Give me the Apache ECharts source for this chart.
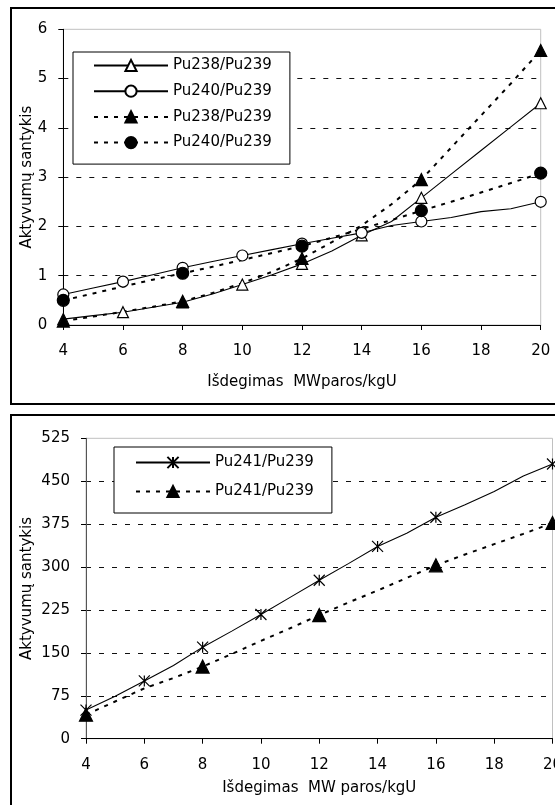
<!DOCTYPE html>
<html><head><meta charset="utf-8">
<script src="https://cdn.jsdelivr.net/npm/echarts@6/dist/echarts.min.js"></script>
<style>html,body{margin:0;padding:0;background:#fff}#c{width:555px;height:805px}</style>
</head><body><div id="c"></div><script>
// ---- data ----
const xVals = [4,5,6,7,8,9,10,11,12,13,14,15,16,17,18,19,20];
const xTicks = [4,6,8,10,12,14,16,18,20];
const yTicksTop = [0,1,2,3,4,5,6];
const yTicksBottom = [0,75,150,225,300,375,450,525];
const pu238Solid = [0.12,0.19,0.26,0.36,0.46,0.63,0.82,1.02,1.24,1.5,1.82,2.1,2.58,3.06,3.54,4.02,4.5];
const pu240Solid = [0.62,0.75,0.88,1.02,1.16,1.29,1.41,1.53,1.65,1.76,1.87,2.02,2.1,2.18,2.3,2.36,2.5];
const pu238Dash  = [0.08,0.17,0.27,0.37,0.48,0.65,0.85,1.08,1.35,1.68,2.02,2.45,2.95,3.6,4.25,4.9,5.57];
const pu240Dash  = [0.5,0.64,0.78,0.92,1.05,1.18,1.32,1.46,1.6,1.77,1.95,2.13,2.32,2.5,2.69,2.88,3.08];
const pu241Solid = [50,74,101,128,160,188,217,247,277,306,336,359,387,409,432,459,480];
const pu241Dash  = [42,65,88,106,126,148,171,193,216,238,259,281,303,322,340,358,377];
const solidMarkX = [4,6,8,10,12,14,16,20];
const dashMarkX  = [4,8,12,16,20];
const names = ['Pu238/Pu239','Pu240/Pu239','Pu238/Pu239 ','Pu240/Pu239 '];
const names2 = ['Pu241/Pu239','Pu241/Pu239 '];
const xTitleTop = 'Išdegimas  MWparos/kgU';
const xTitleBottom = 'Išdegimas  MW paros/kgU';
const yTitle = 'Aktyvumų santykis';

// ---- helpers ----
const FONT = 'DejaVu Sans';
function mk(ys, markX) {
  return xVals.map((x, i) => markX.includes(x) ? [x, ys[i]] : {value: [x, ys[i]], symbol: 'none'});
}
function xAxis(gridIndex, name, gap) {
  return {
    type: 'value', gridIndex, min: 4, max: 20, interval: 2,
    axisLine: {show: true, lineStyle: {color: '#000', width: 1}},
    axisTick: {show: true, length: 5, lineStyle: {color: '#000'}},
    axisLabel: {color: '#000', fontSize: 15, fontFamily: FONT, margin: 19, showMinLabel: true, showMaxLabel: true},
    splitLine: {show: false},
    name, nameLocation: 'middle', nameGap: gap, nameMoveOverlap: false,
    nameTextStyle: {color: '#000', fontSize: 15, fontFamily: FONT}
  };
}
function yAxis(gridIndex, max, interval, gap, axisColor) {
  return {
    type: 'value', gridIndex, min: 0, max, interval,
    axisLine: {show: true, lineStyle: {color: axisColor, width: 1}},
    axisTick: {show: true, length: 5, lineStyle: {color: '#000'}},
    axisLabel: {color: '#000', fontSize: 15, fontFamily: FONT, margin: 16},
    splitLine: {show: true, showMinLine: false, showMaxLine: false, lineStyle: {color: '#111', width: 1, type: [5, 8]}},
    name: yTitle, nameLocation: 'middle', nameGap: gap, nameMoveOverlap: false,
    nameTextStyle: {color: '#000', fontSize: 15, fontFamily: FONT}
  };
}
const ASTER = 'path://M0,0L12,12M12,0L0,12M6,0L6,12';
function line(name, xi, data, symbol, size, fill, dashed) {
  return {
    type: 'line', name, xAxisIndex: xi, yAxisIndex: xi, data,
    symbol, symbolSize: size, showSymbol: true,
    lineStyle: dashed ? {color: '#000', width: 2, type: [4, 6]} : {color: '#000', width: 1.1, type: 'solid'},
    itemStyle: {color: fill, borderColor: '#000', borderWidth: 1.2},
    emphasis: {disabled: true}, animation: false, silent: true
  };
}
const legendCommon = {
  orient: 'vertical', itemWidth: 74, itemHeight: 14,
  borderColor: '#000', borderWidth: 1, backgroundColor: '#fff', selectedMode: false,
  textStyle: {fontSize: 15, fontFamily: FONT, color: '#000'},
  formatter: n => n.trim()
};

const option = {
  backgroundColor: '#fff',
  animation: false,
  graphic: [
    {type: 'rect', shape: {x: 11, y: 8, width: 600, height: 396}, style: {fill: 'none', stroke: '#000', lineWidth: 2}, silent: true, z: -10},
    {type: 'rect', shape: {x: 11, y: 415, width: 600, height: 500}, style: {fill: 'none', stroke: '#000', lineWidth: 2}, silent: true, z: -10}
  ],
  grid: [
    {left: 63.3, top: 29.3, width: 477.4, height: 295.7, show: true, borderColor: '#c0c0c0', borderWidth: 1, backgroundColor: 'transparent', outerBoundsMode: 'none', containLabel: false},
    {left: 86, top: 438.3, width: 466.5, height: 300.4, show: true, borderColor: '#c0c0c0', borderWidth: 1, backgroundColor: 'transparent', outerBoundsMode: 'none', containLabel: false}
  ],
  xAxis: [xAxis(0, xTitleTop, 50), xAxis(1, xTitleBottom, 42)],
  yAxis: [yAxis(0, 6, 1, 29, '#000'), yAxis(1, 525, 75, 51, '#555')],
  legend: [
    Object.assign({}, legendCommon, {left: 73, top: 52, padding: [6, 18, 14, 20], itemGap: 10.7, data: names}),
    Object.assign({}, legendCommon, {left: 114, top: 447, padding: [8, 18, 14, 21], itemGap: 14, data: names2})
  ],
  series: [
    line(names[0], 0, mk(pu238Solid, solidMarkX), 'triangle', 11, '#fff', false),
    line(names[1], 0, mk(pu240Solid, solidMarkX), 'circle', 11, '#fff', false),
    line(names[2], 0, mk(pu238Dash, dashMarkX), 'triangle', 12, '#000', true),
    line(names[3], 0, mk(pu240Dash, dashMarkX), 'circle', 12, '#000', true),
    line(names2[0], 1, mk(pu241Solid, solidMarkX), ASTER, 11, 'transparent', false),
    line(names2[1], 1, mk(pu241Dash, dashMarkX), 'triangle', 13, '#000', true)
  ]
};
const chart = echarts.init(document.getElementById('c'), null, {renderer: 'canvas'});
chart.setOption(option);
</script></body></html>
